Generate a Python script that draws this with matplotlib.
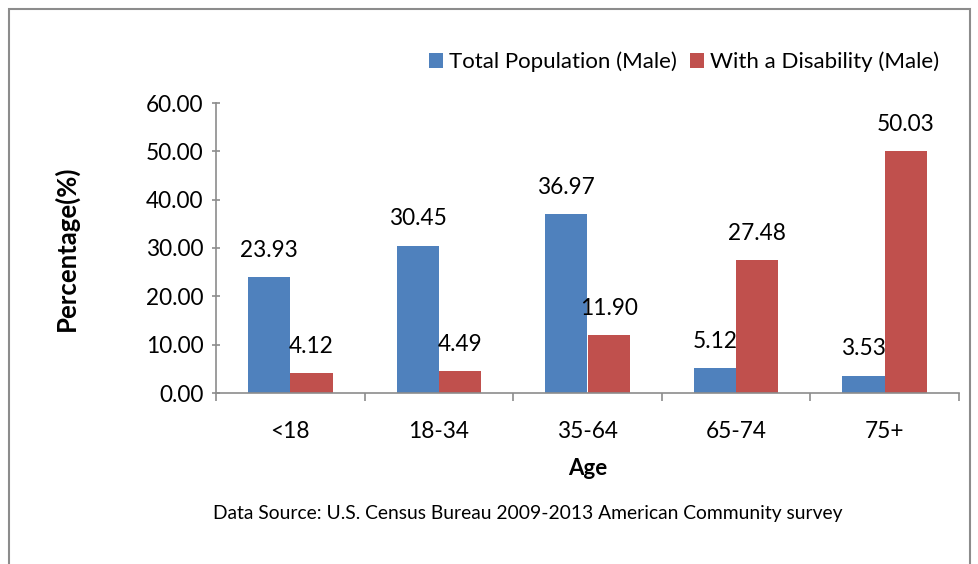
import matplotlib.pyplot as plt
import numpy as np
from matplotlib.patches import Rectangle

plt.rcParams['font.family'] = ['Lato', 'DejaVu Sans']

ages = ['<18', '18-34', '35-64', '65-74', '75+']
total_pop = [23.93, 30.45, 36.97, 5.12, 3.53]
with_disab = [4.12, 4.49, 11.90, 27.48, 50.03]

blue = '#4F81BD'
red = '#C0504D'

W, H = 979, 564
fig = plt.figure(figsize=(W / 100, H / 100), dpi=100)
ax = fig.add_axes([216 / W, 1 - 393 / H, (959 - 216) / W, (393 - 103) / H])

# chart-area border like the excel export
fig.patches.append(Rectangle((9 / W, -0.1), (970 - 9) / W, 1.1 - 9 / H,
                             transform=fig.transFigure, fill=False,
                             edgecolor='#8c8c8c', linewidth=1.5))

x = np.arange(len(ages))
bw = 0.285
b1 = ax.bar(x - bw / 2, total_pop, bw, color=blue, label='Total Population (Male)')
b2 = ax.bar(x + bw / 2, with_disab, bw, color=red, label='With a Disability (Male)')

fs = 16.3
for bars, vals in [(b1, total_pop), (b2, with_disab)]:
    for r, v in zip(bars, vals):
        ax.annotate('%.2f' % v, (r.get_x() + r.get_width() / 2, v),
                    xytext=(0, 19.5), textcoords='offset points',
                    ha='center', va='center', fontsize=fs)

ax.set_xlim(-0.5, len(ages) - 0.5)
ax.set_ylim(0, 60)
ax.set_yticks(np.arange(0, 61, 10))
ax.set_yticklabels(['%.2f' % v for v in np.arange(0, 61, 10)], fontsize=fs)
ax.set_xticks(x)
ax.set_xticklabels(ages, fontsize=fs)
ax.set_xticks(np.arange(-0.5, len(ages)), minor=True)
ax.tick_params(axis='x', which='major', length=0, pad=20)
ax.tick_params(axis='x', which='minor', length=6, direction='out', color='#8c8c8c', width=1.2)
ax.tick_params(axis='y', length=6, direction='inout', color='#8c8c8c', width=1.2, pad=6)

for s in ['top', 'right']:
    ax.spines[s].set_visible(False)
for s in ['left', 'bottom']:
    ax.spines[s].set_color('#8c8c8c')
    ax.spines[s].set_linewidth(1.2)

ax.set_ylabel('Percentage(%)', fontsize=18.5, fontweight='bold', labelpad=48)
ax.set_xlabel('Age', fontsize=16, fontweight='bold', labelpad=12)

ax.legend(loc='lower right', bbox_to_anchor=(0.985, 1.075), ncol=2, frameon=False,
          fontsize=16, handlelength=0.65, handleheight=0.65, handletextpad=0.25,
          columnspacing=0.6, borderaxespad=0)

fig.text(528 / W, 1 - 514 / H,
         'Data Source: U.S. Census Bureau 2009-2013 American Community survey',
         ha='center', va='center', fontsize=13.9)

fig.savefig('out.png', dpi=100)
